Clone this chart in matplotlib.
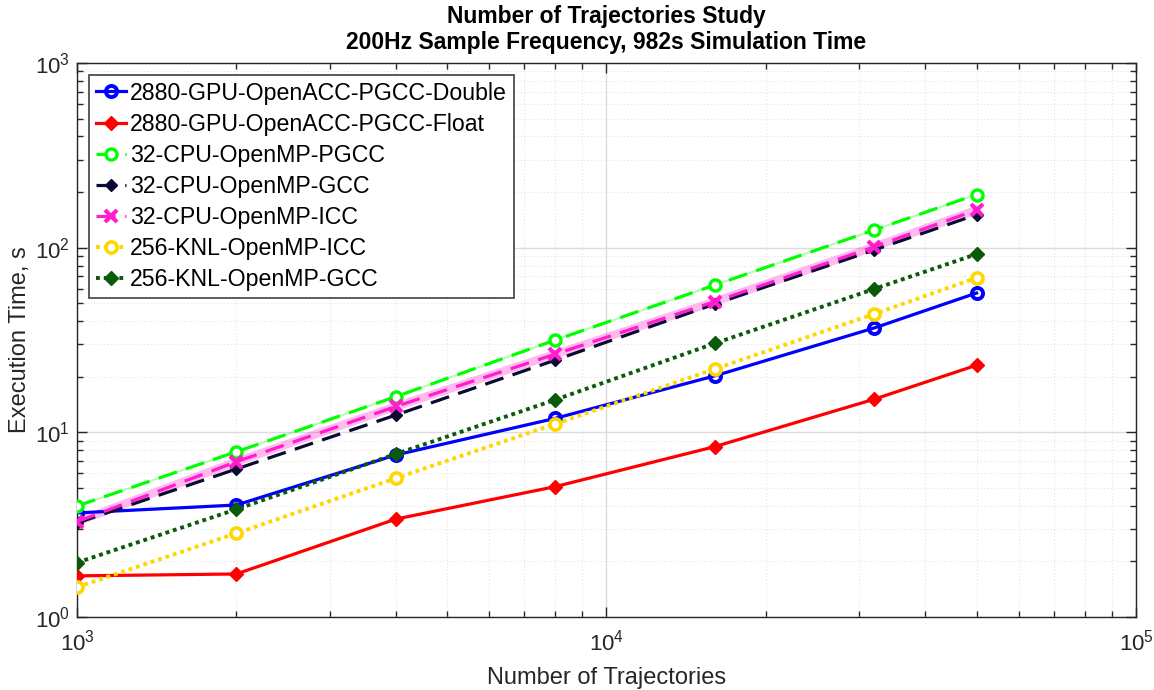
import numpy as np
import matplotlib
matplotlib.use('Agg')
import matplotlib.pyplot as plt
from matplotlib.ticker import LogLocator, NullFormatter

plt.rcParams['font.family'] = ['Liberation Sans', 'DejaVu Sans']
plt.rcParams['mathtext.fontset'] = 'custom'
plt.rcParams['mathtext.rm'] = 'Liberation Sans'

# data
trajectories = [1000, 2000, 4000, 8000, 16000, 32000, 50000]
gpu_double = [3.66, 4.04, 7.54, 11.9, 20.2, 36.7, 56.8]
gpu_float = [1.67, 1.71, 3.39, 5.08, 8.36, 15.1, 23.1]
cpu_pgcc = [3.99, 7.85, 15.6, 31.6, 62.7, 124.5, 194.0]
cpu_gcc = [3.23, 6.33, 12.4, 24.6, 49.5, 97.0, 151.0]
cpu_icc = [3.28, 6.93, 13.8, 26.5, 51.0, 101.0, 160.0]
knl_icc = [1.45, 2.84, 5.64, 11.1, 22.0, 43.7, 68.7]
knl_gcc = [1.97, 3.83, 7.63, 15.0, 30.3, 59.7, 92.3]

fig = plt.figure(figsize=(11.54, 6.90), dpi=100)
ax = fig.add_axes([0.0667, 0.1058, 0.9177, 0.8029])

lw = 2.3
# light "shadow" lines seen behind some series
ax.plot(trajectories, cpu_pgcc, '-', color='#00ff00', alpha=0.3, lw=1.5, zorder=2)
ax.plot(trajectories, cpu_icc, '-', color='#ff1dce', alpha=0.3, lw=6, zorder=2)

ax.plot(trajectories, gpu_double, '-o', color='#0000ff', lw=lw, ms=8, mew=2.8,
        mfc='none', label='2880-GPU-OpenACC-PGCC-Double', zorder=3)
ax.plot(trajectories, gpu_float, '-D', color='#ff0000', lw=lw, ms=7.5,
        label='2880-GPU-OpenACC-PGCC-Float', zorder=3)
ax.plot(trajectories, cpu_pgcc, '--o', color='#00ff00', lw=lw, ms=8, mew=2.4,
        mfc='white', dashes=(6, 3), label='32-CPU-OpenMP-PGCC', zorder=3)
ax.plot(trajectories, cpu_gcc, '--D', color='#0a0a33', lw=lw, ms=6.5,
        dashes=(6, 3), label='32-CPU-OpenMP-GCC', zorder=3)
ax.plot(trajectories, cpu_icc, '--x', color='#ff1dce', lw=lw, ms=8.5, mew=3,
        dashes=(6, 3), label='32-CPU-OpenMP-ICC', zorder=3)
ax.plot(trajectories, knl_icc, ':o', color='#ffd700', lw=lw + 0.5, ms=8, mew=2.6,
        mfc='white', dashes=(1, 1), label='256-KNL-OpenMP-ICC', zorder=3)
ax.plot(trajectories, knl_gcc, ':D', color='#0b5a0b', lw=lw + 0.5, ms=7.5,
        dashes=(1, 1), label='256-KNL-OpenMP-GCC', zorder=3)

ax.set_xscale('log')
ax.set_yscale('log')
ax.set_xlim(1e3, 1e5)
ax.set_ylim(1e0, 1e3)
ax.xaxis.set_major_locator(LogLocator(base=10, numticks=10))
ax.yaxis.set_major_locator(LogLocator(base=10, numticks=10))
ax.xaxis.set_minor_locator(LogLocator(base=10, subs=np.arange(2, 10), numticks=20))
ax.yaxis.set_minor_locator(LogLocator(base=10, subs=np.arange(2, 10), numticks=20))
ax.xaxis.set_minor_formatter(NullFormatter())
ax.yaxis.set_minor_formatter(NullFormatter())

ax.grid(True, which='major', color='#dcdcdc', lw=1, ls='-', zorder=0)
ax.grid(True, which='minor', color='#e4e4e4', lw=0.8, ls=(0, (1, 2)), zorder=0)
ax.set_axisbelow(True)

ax.tick_params(which='both', direction='in', top=True, right=True, color='#262626',
               labelcolor='#262626', labelsize=16)
ax.tick_params(which='major', length=7, width=1)
ax.tick_params(which='minor', length=4, width=1)
ax.tick_params(axis='x', pad=9)
ax.tick_params(axis='y', pad=5)
for s in ax.spines.values():
    s.set_color('#262626')
    s.set_linewidth(1)

ax.set_xlabel('Number of Trajectories', fontsize=17, color='#262626', labelpad=8)
ax.set_ylabel('Execution Time, s', fontsize=17, color='#262626', labelpad=3)
ax.set_title('Number of Trajectories Study\n200Hz Sample Frequency, 982s Simulation Time',
             fontsize=16.5, fontweight='bold', pad=10)

leg = ax.legend(loc='upper left', fontsize=16.7, fancybox=False, framealpha=1,
                edgecolor='#404040', handlelength=1.3, labelspacing=0.35,
                borderaxespad=0.5, handletextpad=0.2, borderpad=0.3)
leg.get_frame().set_linewidth(1.2)

fig.savefig('out.png', dpi=100)
